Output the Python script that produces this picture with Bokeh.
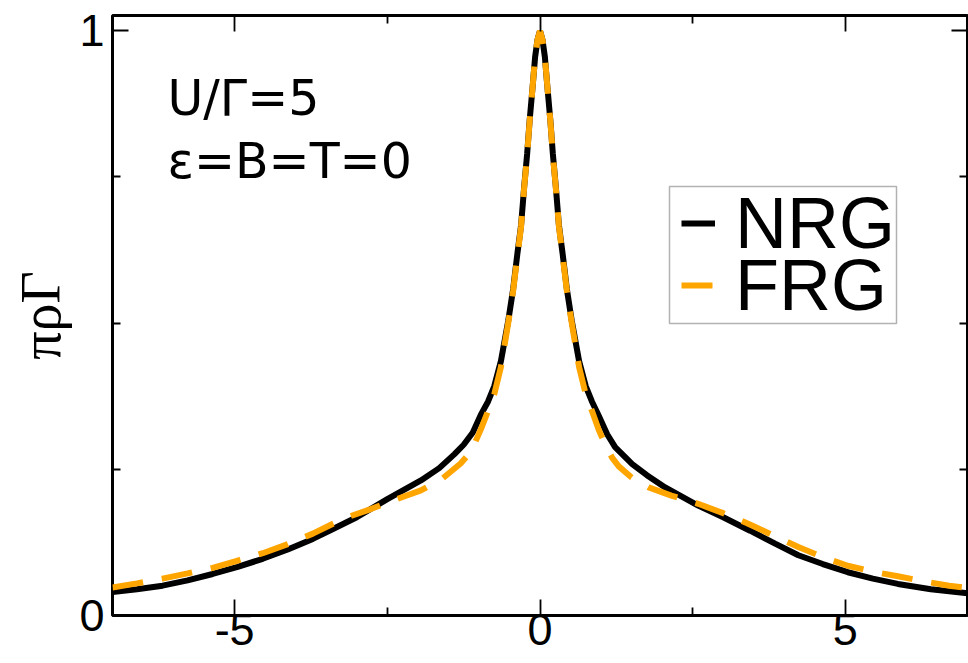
from bokeh.plotting import figure
from bokeh.models import (Range1d, FixedTicker, LinearAxis, Legend, LegendItem,
                          Label, ColumnDataSource, BoxAnnotation)
from bokeh.embed import file_html
from bokeh.resources import INLINE

# Spectral function pi*rho*Gamma versus omega/Gamma
nrg_omega = [-7.0, -6.6, -6.18, -5.77, -5.36, -4.95, -4.54, -4.13, -3.72, -3.39, -3.0,
             -2.5, -1.95, -1.65, -1.4, -1.25, -1.1, -0.97, -0.85, -0.75, -0.64, -0.52,
             -0.44, -0.37, -0.31, -0.26, -0.21, -0.17, -0.12, -0.08, -0.04, 0.0, 0.04,
             0.08, 0.12, 0.17, 0.21, 0.26, 0.31, 0.37, 0.44, 0.52, 0.64, 0.75, 0.85,
             0.96, 1.1, 1.23, 1.51, 1.75, 2.05, 2.59, 3.0, 3.44, 3.85, 4.23, 4.63, 5.04,
             5.45, 5.86, 6.4, 7.0]
nrg_rho = [0.040, 0.045, 0.051, 0.060, 0.071, 0.083, 0.097, 0.113, 0.131, 0.148, 0.168,
           0.199, 0.231, 0.252, 0.276, 0.292, 0.313, 0.343, 0.366, 0.392, 0.435, 0.504,
           0.558, 0.619, 0.667, 0.732, 0.790, 0.846, 0.905, 0.955, 0.985, 1.000, 0.985,
           0.955, 0.905, 0.846, 0.790, 0.732, 0.667, 0.619, 0.558, 0.504, 0.435, 0.392,
           0.366, 0.342, 0.310, 0.288, 0.259, 0.240, 0.219, 0.188, 0.168, 0.145, 0.123,
           0.103, 0.088, 0.074, 0.063, 0.054, 0.045, 0.038]

frg_omega = [-7.0, -6.6, -6.18, -5.77, -5.36, -4.95, -4.54, -4.13, -3.72, -3.39, -3.1,
             -2.77, -2.4, -1.95, -1.6, -1.3, -1.13, -0.97, -0.85, -0.75, -0.64, -0.52,
             -0.44, -0.37, -0.31, -0.26, -0.21, -0.17, -0.12, -0.08, -0.04, 0.0, 0.04,
             0.08, 0.12, 0.17, 0.21, 0.26, 0.31, 0.37, 0.44, 0.52, 0.64, 0.75, 0.85,
             0.96, 1.07, 1.18, 1.29, 1.5, 1.78, 2.15, 2.59, 3.0, 3.41, 3.82, 4.23, 4.63,
             5.04, 5.45, 5.86, 6.3, 6.7, 7.0]
frg_rho = [0.048, 0.055, 0.063, 0.072, 0.0815, 0.094, 0.1065, 0.122, 0.140, 0.157, 0.170,
           0.182, 0.197, 0.214, 0.234, 0.260, 0.280, 0.318, 0.350, 0.378, 0.425, 0.500,
           0.555, 0.615, 0.665, 0.730, 0.788, 0.845, 0.905, 0.955, 0.985, 1.000, 0.985,
           0.955, 0.905, 0.845, 0.788, 0.730, 0.665, 0.615, 0.555, 0.500, 0.425, 0.378,
           0.350, 0.318, 0.292, 0.270, 0.255, 0.236, 0.219, 0.205, 0.191, 0.175, 0.157,
           0.137, 0.117, 0.100, 0.085, 0.075, 0.067, 0.058, 0.051, 0.047]

x_major = [-5, 0, 5]
x_minor = [-2.5, 2.5]
x_tick_text = {-5: "-5", 0: "0", 5: "5"}
y_major = [0, 1]
y_minor = [0.25, 0.5, 0.75]

FONT = "Liberation Sans"

p = figure(width=968, height=663, x_range=Range1d(-7, 7), y_range=Range1d(0, 1.026),
           output_backend="svg", toolbar_location=None,
           min_border_left=112, min_border_right=1, min_border_top=15,
           min_border_bottom=48)
p.grid.visible = False
p.outline_line_color = "black"
p.outline_line_width = 3
p.background_fill_color = "white"
p.border_fill_color = "white"

xt = FixedTicker(ticks=x_major, minor_ticks=x_minor)
yt = FixedTicker(ticks=y_major, minor_ticks=y_minor)


def style_axis(ax, ticker, labels=True):
    ax.ticker = ticker
    ax.axis_line_color = None
    ax.major_tick_in = 16
    ax.major_tick_out = 0
    ax.minor_tick_in = 8
    ax.minor_tick_out = 0
    ax.major_tick_line_width = 1.8
    ax.minor_tick_line_width = 1.8
    ax.major_tick_line_color = "black"
    ax.minor_tick_line_color = "black"
    if labels:
        ax.major_label_text_font = FONT
        ax.major_label_text_font_size = "45px"
        ax.major_label_text_color = "black"
    else:
        ax.major_label_text_font_size = "0px"
        ax.major_label_standoff = 0


style_axis(p.xaxis[0], xt)
p.xaxis[0].major_label_standoff = -2
p.xaxis[0].major_label_overrides = x_tick_text
style_axis(p.yaxis[0], yt)
p.yaxis[0].major_label_standoff = 8
p.yaxis[0].axis_label = "πρΓ"
p.yaxis[0].axis_label_text_font = "Liberation Serif"
p.yaxis[0].axis_label_text_font_size = "56px"
p.yaxis[0].axis_label_text_font_style = "normal"
p.yaxis[0].axis_label_text_color = "black"
p.yaxis[0].axis_label_standoff = 4

top_axis = LinearAxis()
style_axis(top_axis, xt, labels=False)
p.add_layout(top_axis, "above")
right_axis = LinearAxis()
style_axis(right_axis, yt, labels=False)
p.add_layout(right_axis, "right")

nrg = ColumnDataSource(dict(x=nrg_omega, y=nrg_rho))
frg = ColumnDataSource(dict(x=frg_omega, y=frg_rho))
r_nrg = p.line("x", "y", source=nrg, line_color="black", line_width=6)
r_frg = p.line("x", "y", source=frg, line_color="#FFA500", line_width=6,
               line_dash="31 19")

# Legend frame (frame-relative pixels), with the two entries stacked tightly inside
p.add_layout(BoxAnnotation(left=557, right=784, bottom=292, top=429,
                           left_units="screen", right_units="screen",
                           bottom_units="screen", top_units="screen",
                           fill_color="white", fill_alpha=1,
                           line_color="black", line_width=1.5))

for label, rend, row_y in [("NRG", r_nrg, 351), ("FRG", r_frg, 289)]:
    entry = Legend(items=[LegendItem(label=label, renderers=[rend])],
                   location=(569, row_y))
    entry.label_text_font = FONT
    entry.label_text_font_size = "72px"
    entry.label_text_color = "black"
    entry.glyph_width = 34
    entry.glyph_height = 20
    entry.label_standoff = 20
    entry.padding = 0
    entry.spacing = 0
    entry.margin = 0
    entry.border_line_color = None
    entry.background_fill_alpha = 0
    p.add_layout(entry)

for txt, yy in [("U/Γ=5", 0.884), ("ε=B=T=0", 0.776)]:
    p.add_layout(Label(x=-6.1, y=yy, text=txt, text_font="DejaVu Sans",
                       text_font_size="49px", text_color="black",
                       text_baseline="alphabetic"))

open("out.html", "w").write(file_html(p, INLINE))
